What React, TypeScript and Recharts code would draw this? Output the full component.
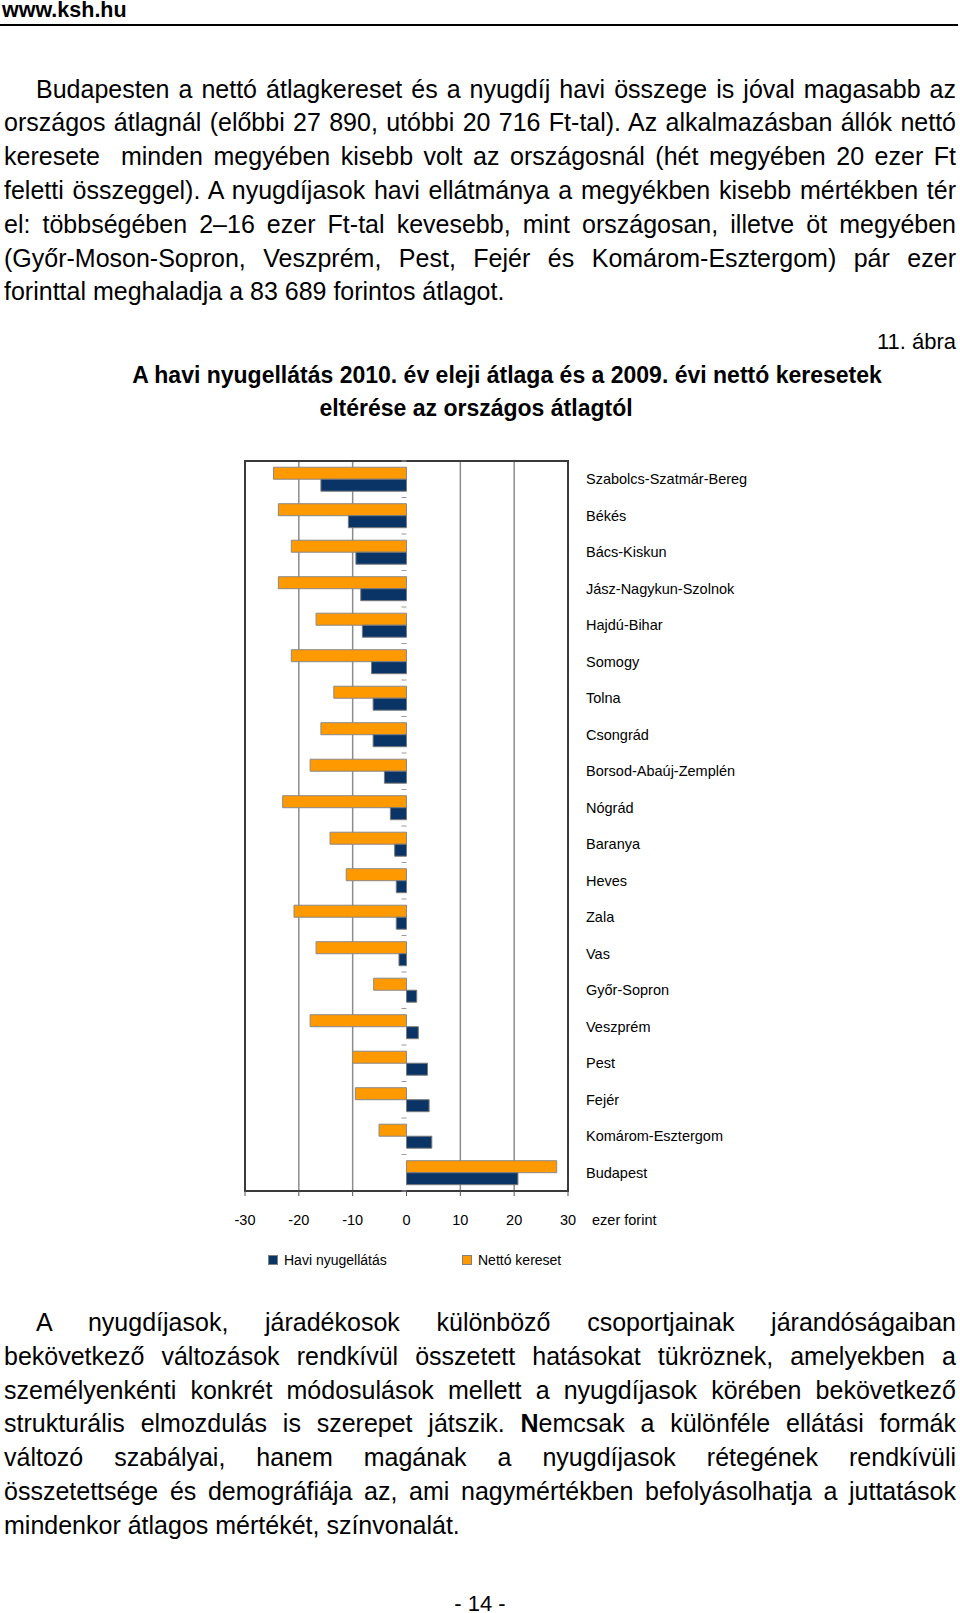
import React from "react";
import {
    BarChart,
    Bar,
    XAxis,
    YAxis,
    CartesianGrid,
    Legend,
    ReferenceLine,
    ReferenceArea,
    Label,
} from "recharts";

// megyék fentről lefelé
const megyek = [
    "Szabolcs-Szatmár-Bereg",
    "Békés",
    "Bács-Kiskun",
    "Jász-Nagykun-Szolnok",
    "Hajdú-Bihar",
    "Somogy",
    "Tolna",
    "Csongrád",
    "Borsod-Abaúj-Zemplén",
    "Nógrád",
    "Baranya",
    "Heves",
    "Zala",
    "Vas",
    "Győr-Sopron",
    "Veszprém",
    "Pest",
    "Fejér",
    "Komárom-Esztergom",
    "Budapest",
];

// eltérés az országos átlagtól, ezer forint
const nettoKereset = [-24.7, -23.8, -21.4, -23.8, -16.8, -21.4, -13.5, -15.9, -17.9, -23.0, -14.2, -11.2, -20.9, -16.8, -6.1, -17.9, -10.0, -9.5, -5.1, 27.9];
const haviNyugellatas = [-15.9, -10.8, -9.4, -8.5, -8.2, -6.5, -6.2, -6.2, -4.1, -3.0, -2.2, -1.9, -1.9, -1.4, 1.9, 2.2, 3.9, 4.2, 4.7, 20.7];

const xTicks = [-30, -20, -10, 0, 10, 20, 30];

const elsoBekezdes = [
    "Budapesten a nettó átlagkereset és a nyugdíj havi összege is jóval magasabb az",
    "országos átlagnál (előbbi 27 890, utóbbi 20 716 Ft-tal). Az alkalmazásban állók nettó",
    "keresete  minden megyében kisebb volt az országosnál (hét megyében 20 ezer Ft",
    "feletti összeggel). A nyugdíjasok havi ellátmánya a megyékben kisebb mértékben tér",
    "el: többségében 2–16 ezer Ft-tal kevesebb, mint országosan, illetve öt megyében",
    "(Győr-Moson-Sopron, Veszprém, Pest, Fejér és Komárom-Esztergom) pár ezer",
    "forinttal meghaladja a 83 689 forintos átlagot.",
];

const masodikBekezdes = [
    "A nyugdíjasok, járadékosok különböző csoportjainak járandóságaiban",
    "bekövetkező változások rendkívül összetett hatásokat tükröznek, amelyekben a",
    "személyenkénti konkrét módosulások mellett a nyugdíjasok körében bekövetkező",
    "strukturális elmozdulás is szerepet játszik. Nemcsak a különféle ellátási formák",
    "változó szabályai, hanem magának a nyugdíjasok rétegének rendkívüli",
    "összetettsége és demográfiája az, ami nagymértékben befolyásolhatja a juttatások",
    "mindenkor átlagos mértékét, színvonalát.",
];

const data = megyek.map((nev, i) => ({
    nev,
    netto: nettoKereset[i],
    nyugdij: haviNyugellatas[i],
}));

const Bekezdes = ({ sorok, top }: { sorok: string[]; top: number }) => (
    <div style={{ position: "absolute", left: 4, top, width: 952, fontSize: 25, lineHeight: "33.8px" }}>
        {sorok.map((sor, i) => {
            const utolso = i === sorok.length - 1;
            // a "Nemcsak" N betűje félkövér az eredetiben
            const idx = sor.indexOf("Nemcsak");
            return (
                <div
                    key={i}
                    style={{
                        textAlign: "justify",
                        textAlignLast: utolso ? "left" : "justify",
                        textIndent: i === 0 ? 32 : 0,
                        whiteSpace: "pre-wrap",
                    }}
                >
                    {idx >= 0 ? (
                        <>
                            {sor.slice(0, idx)}
                            <b>N</b>
                            {sor.slice(idx + 1)}
                        </>
                    ) : (
                        sor
                    )}
                </div>
            );
        })}
    </div>
);

const MegyeTick = ({ x, y, payload }: any) => (
    <text x={x} y={y} dy={5} textAnchor="start" fontSize={14.5} fill="#000">
        {payload.value}
    </text>
);

// kis osztásjelek a 0 tengelyen a kategóriák határán
const NullaOsztas = (props: any) => {
    const { x1, y1, y2 } = props;
    const lepes = (y2 - y1) / megyek.length;
    return (
        <g>
            {Array.from({ length: megyek.length + 1 }, (_, i) => (
                <line
                    key={i}
                    x1={x1 - 5}
                    x2={x1}
                    y1={y1 + i * lepes}
                    y2={y1 + i * lepes}
                    stroke="#9a9a9a"
                    strokeWidth={1}
                />
            ))}
        </g>
    );
};

// a legenda ábécérendben jön: Havi nyugellátás, Nettó kereset
const Jelmagyarazat = ({ payload }: any) => {
    const elemek = payload || [];
    return (
        <div style={{ display: "flex", fontSize: 14, color: "#000", lineHeight: "16px" }}>
            {elemek.map((e: any, i: number) => (
                <div key={i} style={{ width: i === 0 ? 194 : "auto", display: "flex", alignItems: "center" }}>
                    <span
                        style={{
                            display: "inline-block",
                            width: 8,
                            height: 8,
                            background: e.color,
                            border: "1px solid #808080",
                            marginRight: 6,
                        }}
                    />
                    <span>{e.value}</span>
                </div>
            ))}
        </div>
    );
};

const App = () => {
    return (
        <div
            style={{
                position: "absolute",
                left: 0,
                top: 0,
                width: 960,
                height: 1613,
                background: "#fff",
                color: "#000",
                fontFamily: "'Liberation Sans', Arial, sans-serif",
            }}
        >
            <div style={{ position: "absolute", left: 2, top: -1, fontSize: 21.5, fontWeight: "bold", lineHeight: "22px" }}>
                www.ksh.hu
            </div>
            <div style={{ position: "absolute", left: 0, top: 24, width: 958, height: 2, background: "#000" }} />

            <Bekezdes sorok={elsoBekezdes} top={72.6} />

            <div style={{ position: "absolute", right: 4, top: 328, fontSize: 22, lineHeight: "28px" }}>11. ábra</div>
            <div style={{ position: "absolute", left: 54, top: 361, width: 906, textAlign: "center", fontSize: 23, fontWeight: "bold", lineHeight: "28px" }}>
                A havi nyugellátás 2010. év eleji átlaga és a 2009. évi nettó keresetek
            </div>
            <div style={{ position: "absolute", left: 0, top: 393.5, width: 952, textAlign: "center", fontSize: 23, fontWeight: "bold", lineHeight: "28px" }}>
                eltérése az országos átlagtól
            </div>

            <div style={{ position: "absolute", left: 0, top: 440 }}>
                <BarChart
                    width={960}
                    height={840}
                    data={data}
                    layout="vertical"
                    margin={{ top: 21, right: 12, bottom: 31, left: 245 }}
                    barCategoryGap="17%"
                    barGap={0}
                >
                    <CartesianGrid
                        horizontal={false}
                        verticalValues={xTicks.filter((v) => v !== 0)}
                        stroke="#8c8c8c"
                        strokeWidth={1.5}
                    />
                    <ReferenceArea x1={-30} x2={30} fill="none" stroke="#3a3a3a" strokeWidth={2} ifOverflow="visible" />
                    <XAxis
                        type="number"
                        domain={[-30, 30]}
                        ticks={xTicks}
                        interval={0}
                        axisLine={false}
                        tickSize={5}
                        tickMargin={19}
                        tickLine={{ stroke: "#555" }}
                        tick={{ fill: "#000", fontSize: 14.5 }}
                        height={58}
                    >
                        <Label value="ezer forint" position="right" offset={24} fill="#000" fontSize={14.5} />
                    </XAxis>
                    <YAxis
                        type="category"
                        dataKey="nev"
                        orientation="right"
                        width={380}
                        axisLine={false}
                        tickLine={false}
                        tickSize={0}
                        tickMargin={18}
                        interval={0}
                        tick={<MegyeTick />}
                    />
                    <ReferenceLine x={0} stroke="none" shape={NullaOsztas} />
                    <Bar dataKey="netto" name="Nettó kereset" fill="#FF9900" stroke="#8a8a8a" strokeWidth={1} isAnimationActive={false} />
                    <Bar dataKey="nyugdij" name="Havi nyugellátás" fill="#0A3366" stroke="#7a7a7a" strokeWidth={1} isAnimationActive={false} />
                    <Legend
                        layout="horizontal"
                        verticalAlign="middle"
                        align="center"
                        wrapperStyle={{ top: 812, left: 268, width: 420, height: 16 }}
                        content={Jelmagyarazat}
                    />
                </BarChart>
            </div>

            <Bekezdes sorok={masodikBekezdes} top={1306} />

            <div style={{ position: "absolute", left: 0, top: 1590, width: 960, textAlign: "center", fontSize: 22, lineHeight: "28px" }}>
                - 14 -
            </div>
        </div>
    );
};

export default App;
